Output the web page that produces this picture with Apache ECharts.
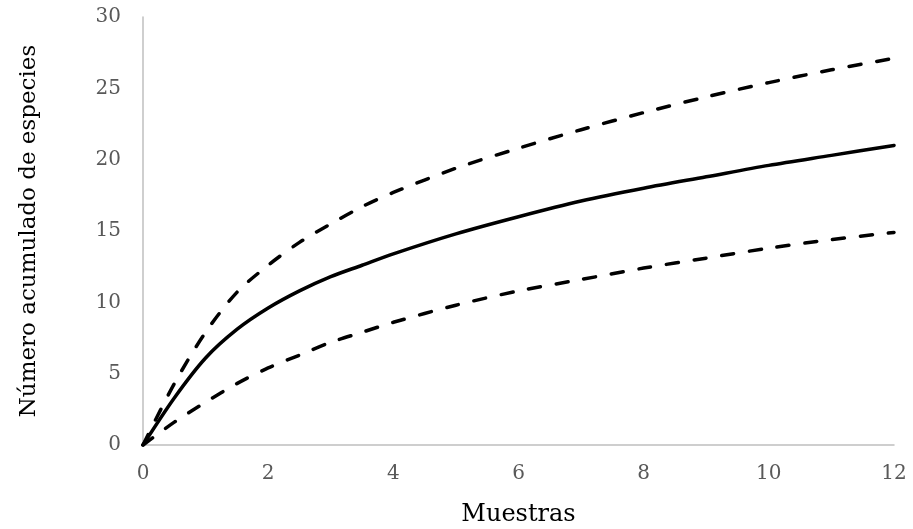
<!DOCTYPE html>
<html>
<head>
<meta charset="utf-8">
<script src="https://cdn.jsdelivr.net/npm/echarts@6/dist/echarts.min.js"></script>
<style>
  html, body { margin: 0; padding: 0; background: #fff; }
  #chart { width: 913px; height: 529px; }
</style>
</head>
<body>
<div id="chart"></div>
<script>
// Species accumulation curve: observed mean and upper / lower bounds
const muestras = [0, 0.5, 1, 1.5, 2, 2.5, 3, 3.5, 4, 5, 6, 7, 8, 9, 10, 11, 12];
const especiesMedia = [0, 3.3, 6.1, 8.1, 9.6, 10.8, 11.8, 12.6, 13.4, 14.8, 16.0, 17.1, 18.0, 18.8, 19.6, 20.3, 21.0];
const especiesSuperior = [0, 4.3, 7.9, 10.7, 12.6, 14.2, 15.5, 16.7, 17.7, 19.4, 20.8, 22.1, 23.3, 24.4, 25.4, 26.3, 27.1];
const especiesInferior = [0, 1.6, 3.0, 4.3, 5.4, 6.3, 7.2, 7.9, 8.6, 9.8, 10.8, 11.6, 12.4, 13.1, 13.8, 14.4, 14.9];

const xTicks = [0, 2, 4, 6, 8, 10, 12];
const yTicks = [0, 5, 10, 15, 20, 25, 30];

const pairs = (ys) => muestras.map((x, i) => [x, ys[i]]);

const FONT = 'DejaVu Serif';

const dashed = {
  color: '#000',
  width: 3.5,
  type: [12, 16],
  cap: 'round'
};

const chart = echarts.init(document.getElementById('chart'), null, { renderer: 'canvas' });
chart.setOption({
  animation: false,
  backgroundColor: '#fff',
  grid: { left: 143, right: 19, top: 17, bottom: 84, containLabel: false, outerBoundsMode: 'none' },
  xAxis: {
    type: 'value',
    min: xTicks[0],
    max: xTicks[xTicks.length - 1],
    interval: xTicks[1] - xTicks[0],
    name: 'Muestras',
    nameLocation: 'middle',
    nameGap: 58,
    nameTextStyle: { fontFamily: FONT, fontSize: 24, color: '#000' },
    axisLine: { show: true, lineStyle: { color: '#bfbfbf', width: 1.5 } },
    axisTick: { show: false },
    splitLine: { show: false },
    axisLabel: { fontFamily: FONT, fontSize: 20, color: '#595959', margin: 19 }
  },
  yAxis: {
    type: 'value',
    min: yTicks[0],
    max: yTicks[yTicks.length - 1],
    interval: yTicks[1] - yTicks[0],
    name: 'Número acumulado de especies',
    nameLocation: 'middle',
    nameRotate: 90,
    nameGap: 102,
    nameTextStyle: { fontFamily: FONT, fontSize: 23, color: '#000' },
    axisLine: { show: true, lineStyle: { color: '#bfbfbf', width: 1.5 } },
    axisTick: { show: false },
    splitLine: { show: false },
    axisLabel: { fontFamily: FONT, fontSize: 20, color: '#595959', margin: 22 }
  },
  series: [
    {
      name: 'Límite superior',
      type: 'line',
      data: pairs(especiesSuperior),
      smooth: 0.3,
      showSymbol: false,
      lineStyle: dashed
    },
    {
      name: 'Límite inferior',
      type: 'line',
      data: pairs(especiesInferior),
      smooth: 0.3,
      showSymbol: false,
      lineStyle: dashed
    },
    {
      name: 'Media',
      type: 'line',
      data: pairs(especiesMedia),
      smooth: 0.3,
      showSymbol: false,
      lineStyle: { color: '#000', width: 3.5, type: 'solid', cap: 'round' }
    }
  ]
});
</script>
</body>
</html>
